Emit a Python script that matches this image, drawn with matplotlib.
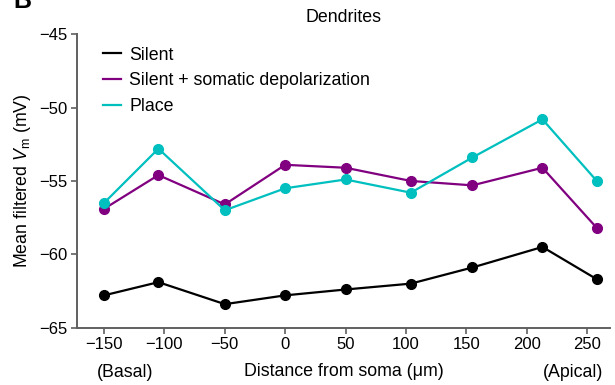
import matplotlib

matplotlib.use("Agg")
import matplotlib.pyplot as plt
import matplotlib.transforms as mtransforms

plt.rcParams["font.family"] = ["Liberation Sans", "DejaVu Sans"]
plt.rcParams["mathtext.fontset"] = "custom"
plt.rcParams["mathtext.rm"] = "Liberation Sans"
plt.rcParams["mathtext.it"] = "Liberation Sans:italic"

# distance from soma (um) and mean filtered Vm (mV)
distance = [-150, -105, -50, 0, 50, 104, 155, 213, 258]
silent = [-62.8, -61.9, -63.4, -62.8, -62.4, -62.0, -60.9, -59.5, -61.7]
silent_depol = [-56.9, -54.6, -56.6, -53.9, -54.1, -55.0, -55.3, -54.1, -58.2]
place = [-56.5, -52.8, -57.0, -55.5, -54.9, -55.8, -53.4, -50.8, -55.0]

x_ticks = [-150, -100, -50, 0, 50, 100, 150, 200, 250]
y_ticks = [-65, -60, -55, -50, -45]

GRAY = "#606060"

fig = plt.figure(figsize=(6.15, 3.85), dpi=100)
ax = fig.add_axes([0.126, 0.149, 0.866, 0.762])

series = [
    (silent, "black", "Silent"),
    (silent_depol, "#800080", "Silent + somatic depolarization"),
    (place, "#00BFBF", "Place"),
]
for vals, color, label in series:
    ax.plot(distance, vals, color=color, linewidth=1.6, marker="o",
            markersize=7, label=label)

ax.set_xlim(-172, 269)
ax.set_ylim(-65, -45)
ax.set_xticks(x_ticks)
ax.set_yticks(y_ticks)
ax.tick_params(labelsize=12, color=GRAY, width=1.2, length=4, pad=3)

for side in ["top", "right"]:
    ax.spines[side].set_visible(False)
for side in ["left", "bottom"]:
    ax.spines[side].set_color(GRAY)
    ax.spines[side].set_linewidth(1.4)

ax.set_title("Dendrites", fontsize=12.8, pad=9)
ax.set_ylabel(r"Mean filtered $V_\mathrm{m}$ (mV)", fontsize=12.8, labelpad=5)
ax.set_xlabel("Distance from soma (μm)", fontsize=12.8, labelpad=8)

trans = mtransforms.blended_transform_factory(ax.transData, ax.transAxes)
ax.text(-156, -0.167, "(Basal)", transform=trans, ha="left", va="baseline",
        fontsize=12.8)
ax.text(263.5, -0.167, "(Apical)", transform=trans, ha="right", va="baseline",
        fontsize=12.8)

leg = ax.legend(loc="upper left", bbox_to_anchor=(0.025, 1.0), frameon=False,
                fontsize=12.8, handlelength=1.0, handletextpad=0.45,
                labelspacing=0.48, borderaxespad=0.3)
for h in leg.legend_handles:
    h.set_marker("")

fig.text(0.022, 1 - 8 / 385, "B", fontsize=18, fontweight="bold",
         va="baseline", ha="left")

fig.savefig("out.png", dpi=100)
